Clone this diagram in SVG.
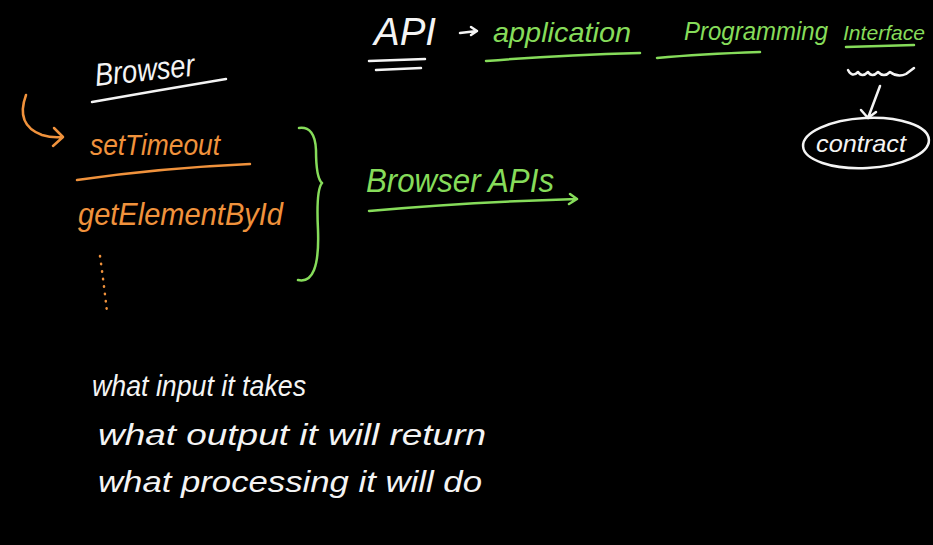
<svg xmlns="http://www.w3.org/2000/svg" width="933" height="545" viewBox="0 0 933 545">
<defs>
<style>
.w{fill:#f4f4f4}.o{fill:#f0923c}.g{fill:#86dc5a}
text{font-family:"Liberation Sans","DejaVu Sans",sans-serif;font-style:italic}
.sw{stroke:#f4f4f4;fill:none;stroke-width:2.5;stroke-linecap:round;stroke-linejoin:round}
.so{stroke:#f0923c;fill:none;stroke-width:2.5;stroke-linecap:round;stroke-linejoin:round}
.sg{stroke:#86dc5a;fill:none;stroke-width:2.5;stroke-linecap:round;stroke-linejoin:round}
</style>
</defs>
<rect width="933" height="545" fill="#000"/>
<g id="api">
<text x="374" y="45" class="w" font-size="38" font-style="normal" textLength="62" lengthAdjust="spacingAndGlyphs">API</text>
<path class="sw" d="M369 61 L425 59 M376 70 L421 68"/>
</g>
<g id="application">
<text x="493" y="42" class="g" font-size="28" textLength="138" lengthAdjust="spacingAndGlyphs">application</text>
<path class="sg" d="M486 61 Q560 55 640 53"/>
</g>
<g id="programming">
<text x="684" y="40" class="g" font-size="26" textLength="144" lengthAdjust="spacingAndGlyphs">Programming</text>
<path class="sg" d="M657 58 Q700 54 760 52"/>
</g>
<g id="interface">
<text x="843" y="40" class="g" font-size="21" textLength="82" lengthAdjust="spacingAndGlyphs">Interface</text>
<path class="sg" d="M846 47 L914 45"/>
<path class="sw" d="M848 70 Q852 78 858 72 Q862 78 868 72 Q872 78 878 72 Q884 78 890 72 Q898 78 906 74 L914 68"/>
</g>
<g id="contract">
<ellipse cx="866" cy="143" rx="63" ry="25" class="sw" transform="rotate(-3 866 143)"/>
<text x="816" y="152" class="w" font-size="24" textLength="90" lengthAdjust="spacingAndGlyphs">contract</text>
</g>
<g id="browser">
<text x="96" y="86" class="w" font-size="32" textLength="100" lengthAdjust="spacingAndGlyphs" transform="rotate(-6 96 86)">Browser</text>
<path class="sw" d="M92 102 Q160 90 226 79"/>
</g>
<g id="setTimeout">
<text x="90" y="155" class="o" font-size="30" textLength="130" lengthAdjust="spacingAndGlyphs">setTimeout</text>
<path class="so" d="M77 180 Q160 168 250 164"/>
</g>
<g id="getElementById">
<text x="78" y="225" class="o" font-size="32" textLength="205" lengthAdjust="spacingAndGlyphs">getElementById</text>
<path class="so" stroke-width="3.2" stroke-dasharray="0.5 7" d="M100 256 Q104 285 107 312"/>
</g>
<g id="browser-apis">
<text x="366" y="192" class="g" font-size="34" textLength="188" lengthAdjust="spacingAndGlyphs">Browser APIs</text>
</g>
<g id="notes">
<text x="92" y="396" class="w" font-size="30" textLength="214" lengthAdjust="spacingAndGlyphs">what input it takes</text>
<text x="98" y="445" class="w" font-size="30" textLength="388" lengthAdjust="spacingAndGlyphs">what output it will return</text>
<text x="98" y="492" class="w" font-size="30" textLength="384" lengthAdjust="spacingAndGlyphs">what processing it will do</text>
</g>
<g id="connectors">
<path class="sw" d="M460 33 L477 31 M471 27 L477 31 L471 35"/>
<path class="sw" d="M880 86 Q874 102 868 118 M861 110 L868 118 L876 112"/>
<path class="so" d="M26 95 Q15 125 42 135 Q52 138 62 137 M54 128 L63 137 L53 146"/>
<path class="sg" d="M299 128 Q315 126 316 150 Q316 178 322 183 Q316 190 318 230 Q320 285 298 280"/>
<path class="sg" d="M369 211 Q470 202 577 199 M570 194 L577 199 L569 204"/>
</g>
</svg>
